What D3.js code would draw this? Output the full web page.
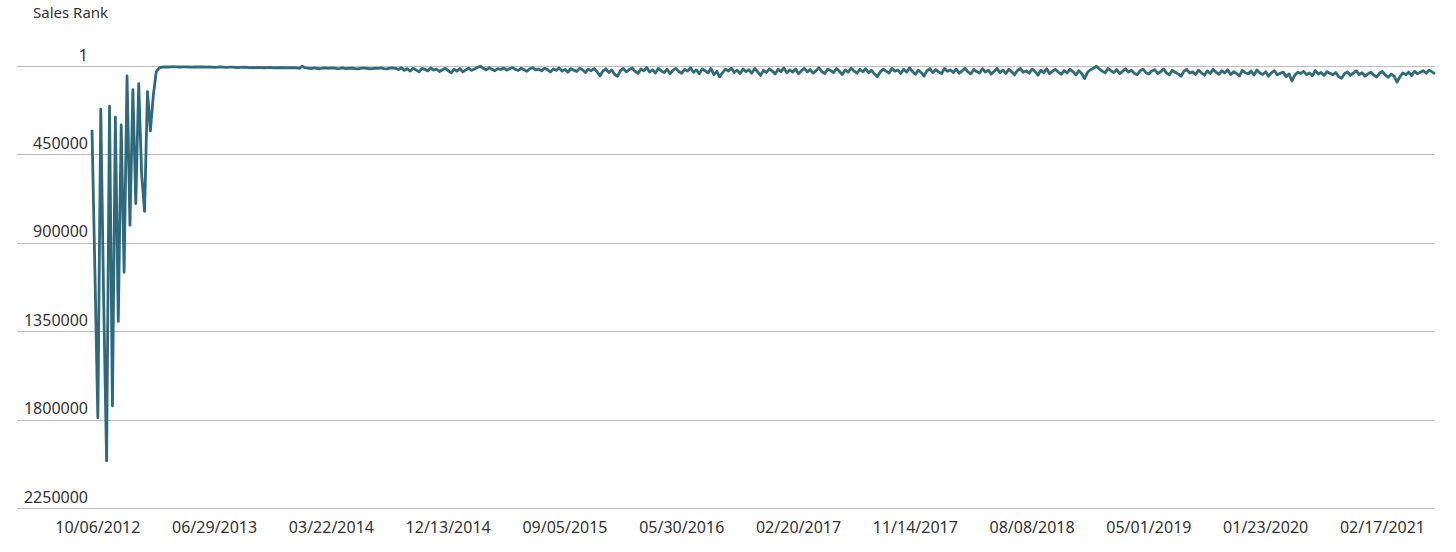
<!DOCTYPE html>
<html>
<head>
<meta charset="utf-8">
<script src="https://cdn.jsdelivr.net/npm/d3@7"></script>
<style>
  html, body { margin: 0; padding: 0; background: #fff; }
  svg text { font-family: "Noto Sans", "Open Sans", sans-serif; fill: #333; }
</style>
</head>
<body>
<svg id="chart"></svg>
<script>
// sales rank, one value per sample (lower = better)
var salesRank = [
  325000, 1050000, 1790000, 220000, 1200000, 2010000, 205000, 1730000, 260000, 1300000,
  300000, 1050000, 50000, 810000, 120000, 700000, 90000, 550000, 740000, 130000,
  330000, 150000, 30000, 10000, 6000,
  4000, 5000, 4000, 3000, 4000, 5000, 4000, 4000, 5000, 6000,
  5000, 4000, 5000, 5000, 6000, 5000, 6000, 7000, 6000, 5000,
  6000, 7000, 6000, 6000, 7000, 8000, 7000, 6000, 7000, 8000,
  9000, 8000, 7000, 8000, 9000, 8000, 7000, 9000, 10000, 9000,
  8000, 9000, 10000, 9000, 8000, 10000, 12000, 1000, 9000, 11000,
  13000, 10000, 12000, 14000, 11000, 10000, 12000, 9000, 11000, 13000,
  12000, 10000, 14000, 12000, 11000, 13000, 15000, 12000, 10000, 12000,
  14000, 13000, 11000, 12000, 10000, 13000, 15000, 11000, 9000, 12000,
  18000, 9000, 22000, 14000, 26000, 11000, 20000, 30000, 12000, 17000,
  25000, 10000, 21000, 15000, 28000, 19000, 12000, 24000, 35000, 16000,
  26000, 13000, 30000, 20000, 11000, 22000, 15000, 8000, 1000, 12000,
  20000, 9000, 16000, 24000, 13000, 18000, 10000, 21000, 14000, 8000,
  17000, 23000, 11000, 19000, 27000, 14000, 9000, 20000, 16000, 25000,
  12000, 18000, 30000, 15000, 22000, 10000, 26000, 17000, 32000, 14000,
  21000, 28000, 12000, 19000, 33000, 16000, 24000, 13000, 30000, 50000,
  26000, 14000, 33000, 20000, 42000, 52000, 24000, 12000, 30000, 18000,
  10000, 27000, 38000, 15000, 24000, 8000, 31000, 19000, 36000, 12000,
  25000, 33000, 16000, 40000, 21000, 12000, 29000, 37000, 17000, 26000,
  9000, 32000, 20000, 39000, 15000, 24000, 35000, 13000, 44000, 27000,
  55000, 34000, 16000, 26000, 11000, 33000, 21000, 38000, 15000, 29000,
  19000, 37000, 12000, 30000, 48000, 22000, 33000, 14000, 26000, 41000,
  17000, 28000, 10000, 35000, 20000, 31000, 15000, 39000, 24000, 12000,
  30000, 18000, 36000, 25000, 9000, 29000, 38000, 16000, 23000, 33000,
  13000, 27000, 43000, 20000, 31000, 11000, 25000, 37000, 17000, 29000,
  14000, 34000, 22000, 40000, 55000, 30000, 16000, 26000, 36000, 12000,
  27000, 20000, 38000, 17000, 31000, 10000, 28000, 42000, 21000, 33000,
  52000, 24000, 14000, 34000, 18000, 30000, 39000, 13000, 27000, 20000,
  33000, 16000, 37000, 25000, 11000, 30000, 40000, 18000, 28000, 36000,
  14000, 31000, 21000, 41000, 27000, 12000, 34000, 20000, 38000, 17000,
  29000, 44000, 23000, 13000, 32000, 25000, 37000, 16000, 28000, 47000,
  21000, 34000, 14000, 39000, 26000, 18000, 31000, 42000, 23000, 35000,
  17000, 29000, 45000, 24000, 38000, 64000, 32000, 19000, 12000, 1000,
  15000, 26000, 35000, 13000, 24000, 33000, 18000, 39000, 27000, 14000,
  31000, 21000, 37000, 44000, 24000, 16000, 34000, 41000, 26000, 19000,
  38000, 29000, 15000, 35000, 45000, 22000, 32000, 40000, 52000, 27000,
  18000, 36000, 30000, 43000, 21000, 34000, 47000, 25000, 38000, 17000,
  32000, 42000, 24000, 35000, 19000, 44000, 29000, 38000, 50000, 22000,
  34000, 40000, 26000, 46000, 20000, 36000, 43000, 29000, 52000, 34000,
  24000, 45000, 37000, 31000, 55000, 41000, 76000, 47000, 32000, 38000,
  27000, 44000, 35000, 50000, 23000, 41000, 33000, 48000, 29000, 37000,
  45000, 33000, 54000, 62000, 39000, 30000, 48000, 36000, 25000, 43000,
  34000, 51000, 40000, 31000, 46000, 56000, 37000, 28000, 47000, 58000,
  41000, 52000, 82000, 54000, 35000, 44000, 32000, 49000, 27000, 40000,
  31000, 24000, 37000, 21000, 30000, 40000
];

var yTicks = [1, 450000, 900000, 1350000, 1800000, 2250000];
var dateLabels = ["10/06/2012", "06/29/2013", "03/22/2014", "12/13/2014", "09/05/2015", "05/30/2016",
                  "02/20/2017", "11/14/2017", "08/08/2018", "05/01/2019", "01/23/2020", "02/17/2021"];
// sample index of the first labelled date, and samples between labels
var firstLabelIdx = 2;
var labelEvery = 40;

var width = 1456, height = 552;
var svg = d3.select("#chart").attr("width", width).attr("height", height);

var x = d3.scaleLinear()
    .domain([0, salesRank.length - 1])
    .range([92, 1435]);

var y = d3.scaleLinear()
    .domain([1, 2250000])
    .range([66, 508]);

// title
svg.append("text")
    .attr("x", 33)
    .attr("y", 18)
    .style("font-size", "15px")
    .text("Sales Rank");

// grid + y labels
var grid = svg.append("g").attr("class", "grid");
grid.selectAll("line")
    .data(yTicks)
    .enter().append("line")
    .attr("x1", 17)
    .attr("x2", 1435)
    .attr("y1", function(d) { return Math.round(y(d)) + 0.5; })
    .attr("y2", function(d) { return Math.round(y(d)) + 0.5; })
    .attr("stroke", "#bdbdbd")
    .attr("stroke-width", 1);

grid.selectAll("text")
    .data(yTicks)
    .enter().append("text")
    .attr("x", 88)
    .attr("y", function(d) { return y(d) - 5.5; })
    .attr("text-anchor", "end")
    .style("font-size", "16px")
    .text(function(d) { return d; });

// x labels
var xLabels = svg.append("g").attr("class", "xlabels");
xLabels.selectAll("text")
    .data(dateLabels)
    .enter().append("text")
    .attr("x", function(d, i) { return x(firstLabelIdx + i * labelEvery); })
    .attr("y", 533)
    .attr("text-anchor", "middle")
    .style("font-size", "16px")
    .text(function(d) { return d; });

// the series
var line = d3.line()
    .x(function(d, i) { return x(i); })
    .y(function(d) { return y(d); });

svg.append("path")
    .datum(salesRank)
    .attr("fill", "none")
    .attr("stroke", "#2e6a7b")
    .attr("stroke-width", 2.8)
    .attr("stroke-linejoin", "round")
    .attr("d", line);
</script>
</body>
</html>
